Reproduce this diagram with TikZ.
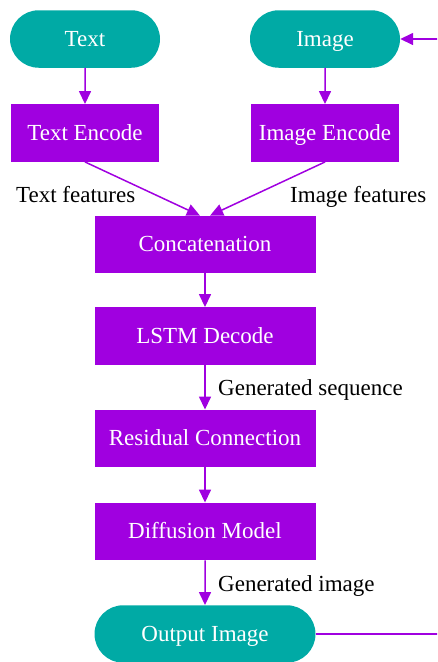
\documentclass[tikz,border=0pt]{standalone}
\usepackage{fontspec}
\setmainfont{Liberation Serif}
\usetikzlibrary{arrows.meta,shapes.misc}
\definecolor{flowteal}{RGB}{0,170,165}
\definecolor{flowviolet}{RGB}{160,0,224}

\begin{document}
\begin{tikzpicture}[x=1pt,y=-1pt,
    font=\fontsize{23}{27}\selectfont,
    term/.style={rounded rectangle,fill=flowteal,text=white,
      minimum height=57.5pt,inner sep=0pt,text height=17pt,text depth=3pt},
    proc/.style={rectangle,fill=flowviolet,text=white,
      minimum height=57.5pt,inner sep=0pt,text height=17pt,text depth=3pt},
    lbl/.style={anchor=base west,inner sep=0pt},
    flow/.style={draw=flowviolet,line width=1.5pt,
      -{Triangle[length=13pt,width=12pt]}}]
  \useasboundingbox (0,0) rectangle (437,662);
  \clip (0,0) rectangle (437,662);
  \path
    (85,39) node[term,minimum width=150pt] (text){Text}
    (325,39) node[term,minimum width=150pt] (image){Image}
    (85,133) node[proc,minimum width=148pt] (textenc){Text Encode}
    (325,133) node[proc,minimum width=148pt] (imageenc){Image Encode}
    (205,244.5) node[proc,minimum width=221pt] (concat){Concatenation}
    (205,336) node[proc,minimum width=221pt] (lstm){LSTM Decode}
    (205,438.5) node[proc,minimum width=221pt] (residual){Residual Connection}
    (205,531.5) node[proc,minimum width=221pt] (diffusion){Diffusion Model}
    (205,634) node[term,minimum width=221pt] (output){Output Image};
  \path
    (16,202) node[lbl] (textfeat){Text features}
    (290,202) node[lbl] (imagefeat){Image features}
    (218,395) node[lbl] (genseq){Generated sequence}
    (218,591) node[lbl] (genimg){Generated image};
  \begin{scope}[flow]
    \draw (text) to (textenc);
    \draw (image) to (imageenc);
    \draw (textenc.south) to (concat.100);
    \draw (imageenc.south) to (concat.80);
    \draw (concat) to (lstm);
    \draw (lstm) to (residual);
    \draw (residual) to (diffusion);
    \draw (diffusion) to (output);
    % feedback loop runs round the right-hand side
    \draw (output.east) -- ++(150,0) |- (image.east);
  \end{scope}
\end{tikzpicture}
\end{document}
